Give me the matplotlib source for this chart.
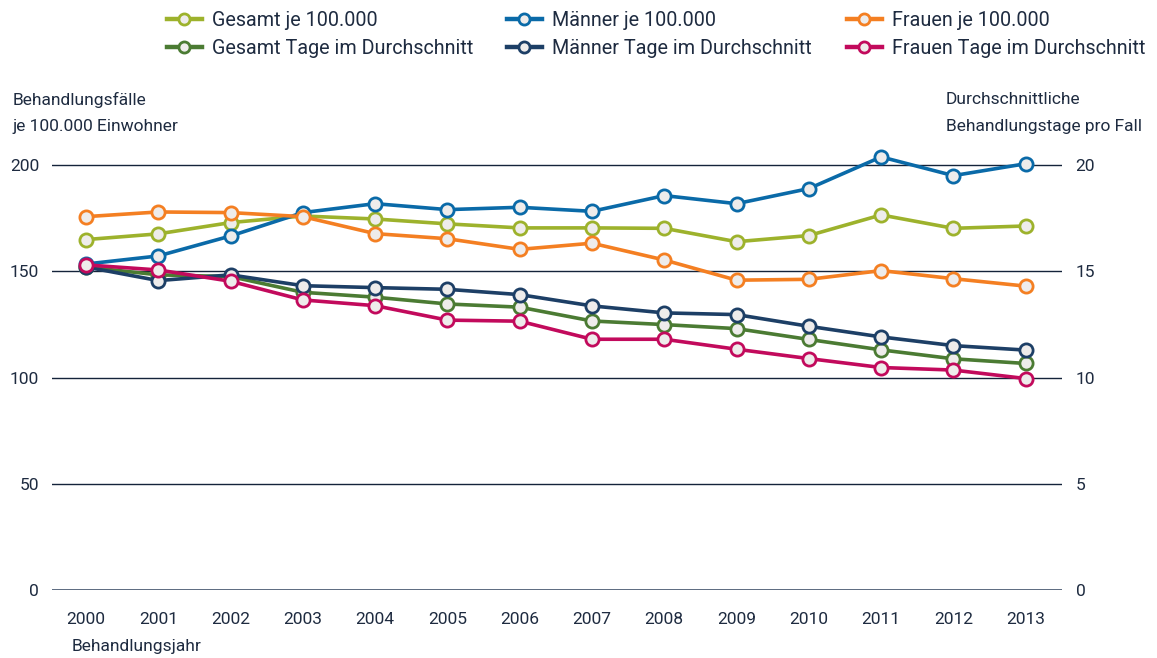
import matplotlib
matplotlib.use("Agg")
import matplotlib.pyplot as plt
from matplotlib.lines import Line2D

plt.rcParams['font.family'] = ['Roboto', 'DejaVu Sans']

years = [2000, 2001, 2002, 2003, 2004, 2005, 2006, 2007, 2008, 2009, 2010, 2011, 2012, 2013]

gesamt_je = [164.9, 167.6, 172.9, 176.0, 174.6, 172.3, 170.4, 170.4, 170.2, 163.9, 166.8, 176.5, 170.2, 171.3]
maenner_je = [153.4, 157.2, 166.6, 177.6, 181.8, 179.0, 180.1, 178.2, 185.6, 181.8, 188.9, 203.8, 195.0, 200.6]
frauen_je = [175.7, 177.9, 177.6, 175.7, 167.7, 165.3, 160.3, 163.2, 155.3, 145.8, 146.2, 150.3, 146.5, 143.0]

gesamt_tage = [15.2, 14.83, 14.75, 14.01, 13.78, 13.46, 13.31, 12.66, 12.49, 12.30, 11.79, 11.30, 10.88, 10.66]
maenner_tage = [15.2, 14.56, 14.83, 14.32, 14.23, 14.15, 13.90, 13.37, 13.04, 12.96, 12.41, 11.91, 11.50, 11.29]
frauen_tage = [15.3, 15.06, 14.53, 13.65, 13.38, 12.70, 12.65, 11.80, 11.80, 11.33, 10.89, 10.47, 10.35, 9.95]

left_ticks = [0, 50, 100, 150, 200]
right_ticks = [0, 5, 10, 15, 20]

labels = ["Gesamt je 100.000", "Gesamt Tage im Durchschnitt",
          "Männer je 100.000", "Männer Tage im Durchschnitt",
          "Frauen je 100.000", "Frauen Tage im Durchschnitt"]

c_gesamt = "#9db22c"
c_gesamt_t = "#4b7b33"
c_maenner = "#0a6aa8"
c_maenner_t = "#1d3f66"
c_frauen = "#f47f22"
c_frauen_t = "#c20a5c"
txt = "#1e2b40"
face = "#eeeceb"

W, H = 1157, 658
fig = plt.figure(figsize=(W / 100, H / 100), dpi=100)

y0_px, y200_px = 590, 165
ppu = (y0_px - y200_px) / 200.0
ytop = 212
top_px = y200_px - (ytop - 200) * ppu
x_left, x_right = 51.7, 1061.7
ax = fig.add_axes([x_left / W, (H - y0_px) / H, (x_right - x_left) / W, (y0_px - top_px) / H])
ax2 = ax.twinx()

ax.set_ylim(0, ytop)
ax2.set_ylim(0, ytop / 10)
step = (1025.7 - 86) / 13
ax.set_xlim(2000 - (86 - x_left) / step, 2013 + (x_right - 1025.7) / step)

for a in (ax, ax2):
    for s in a.spines.values():
        s.set_visible(False)
    a.patch.set_visible(False)

for t in left_ticks:
    ax.axhline(t, color="#5c6a80" if t == 0 else "#14233a", lw=1.4 if t == 0 else 1.0, zorder=1)

lw = 2.6
ms = 9.5
mew = 2.0

def plot(a, y, c, z):
    a.plot(years, y, color=c, lw=lw, marker='o', ms=ms, mfc=face, mec=c, mew=mew,
           clip_on=False, zorder=z, solid_joinstyle='round')

plot(ax, gesamt_je, c_gesamt, 3)
plot(ax, maenner_je, c_maenner, 4)
plot(ax, frauen_je, c_frauen, 5)
plot(ax2, gesamt_tage, c_gesamt_t, 3)
plot(ax2, maenner_tage, c_maenner_t, 4)
plot(ax2, frauen_tage, c_frauen_t, 5)

fs = 12.5
ax.set_yticks(left_ticks)
ax.set_yticklabels([str(t) for t in left_ticks])
ax2.set_yticks(right_ticks)
ax2.set_yticklabels([str(t) for t in right_ticks])
ax.set_xticks(years)
ax.set_xticklabels([str(y) for y in years])
ax.tick_params(axis='y', length=0, pad=9, labelsize=fs, labelcolor=txt)
ax2.tick_params(axis='y', length=0, pad=10, labelsize=fs, labelcolor=txt)
ax.tick_params(axis='x', length=0, pad=16, labelsize=fs, labelcolor=txt)

fig.text(13 / W, 1 - 100 / H, "Behandlungsfälle", ha='left', va='center', fontsize=fs, color=txt)
fig.text(13 / W, 1 - 127 / H, "je 100.000 Einwohner", ha='left', va='center', fontsize=fs, color=txt)
fig.text(946 / W, 1 - 100 / H, "Durchschnittliche", ha='left', va='center', fontsize=fs, color=txt)
fig.text(946 / W, 1 - 127 / H, "Behandlungstage pro Fall", ha='left', va='center', fontsize=fs, color=txt)
fig.text(72 / W, 1 - 647 / H, "Behandlungsjahr", ha='left', va='center', fontsize=fs, color=txt)

colors = [c_gesamt, c_gesamt_t, c_maenner, c_maenner_t, c_frauen, c_frauen_t]
handles = [Line2D([0], [0], color=c, lw=3.2, marker='o', ms=8, mfc=face, mec=c, mew=2.0)
           for c in colors]
col_x = [167, 507, 847]
for i, x in enumerate(col_x):
    leg = fig.legend(handles[2 * i:2 * i + 2], labels[2 * i:2 * i + 2], loc='upper left',
                     bbox_to_anchor=(x / W, 1 - 11 / H), frameon=False, fontsize=14.2,
                     handlelength=1.75, handletextpad=0.55, labelspacing=0.45,
                     borderaxespad=0, borderpad=0)
    for t in leg.get_texts():
        t.set_color(txt)

fig.savefig("out.png", dpi=100)
